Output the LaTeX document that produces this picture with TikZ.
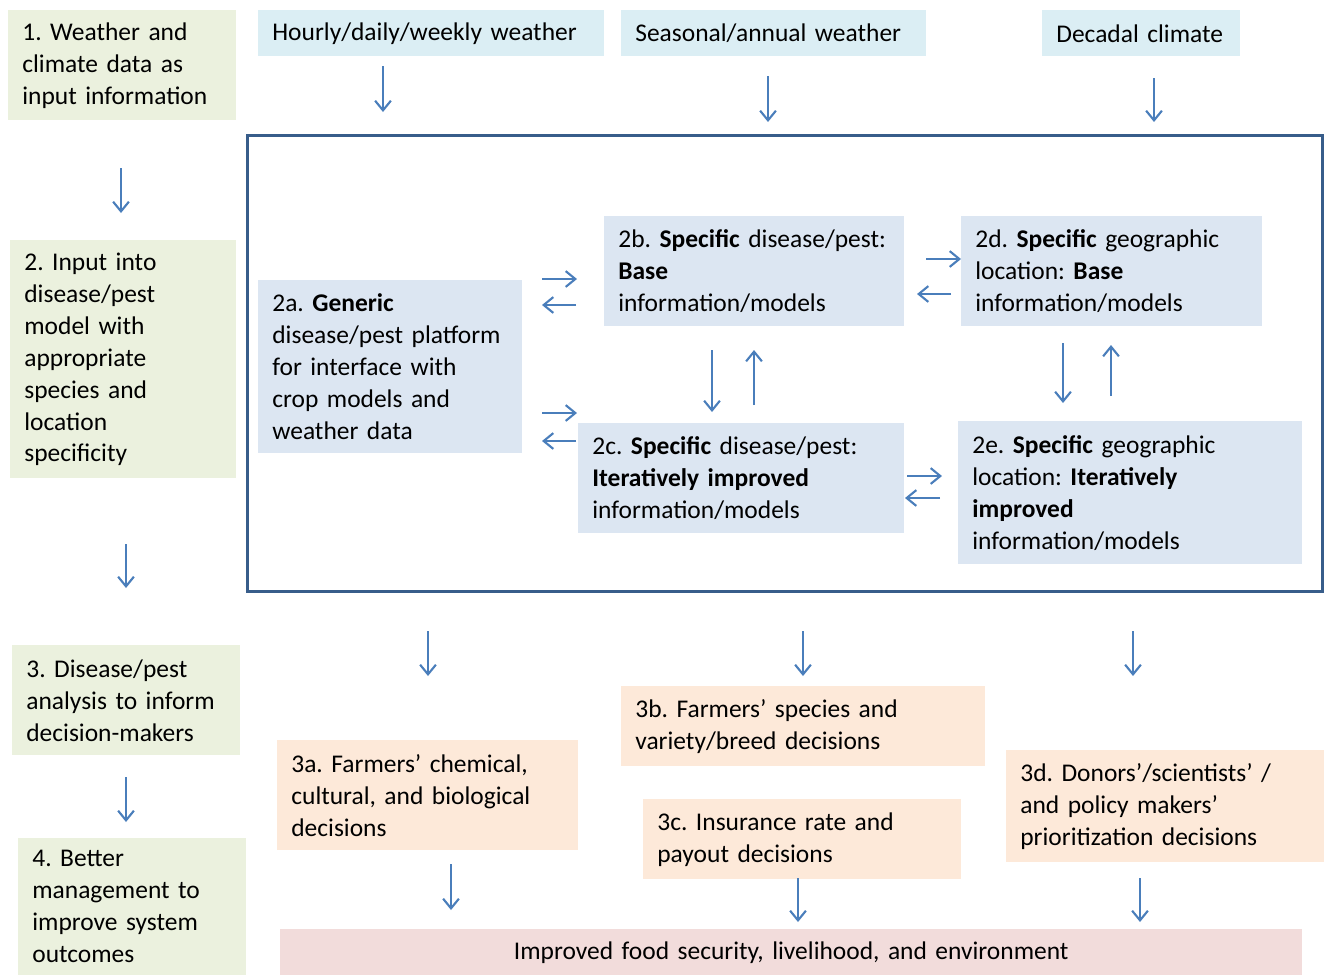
\documentclass[tikz,border=0pt]{standalone}
\usepackage{fontspec}
\setmainfont{Carlito}
\usetikzlibrary{arrows.meta}
\definecolor{stepgreen}{HTML}{EBF1DE}
\definecolor{wxblue}{HTML}{DBEEF4}
\definecolor{modelblue}{HTML}{DCE6F2}
\definecolor{decorange}{HTML}{FDE9D9}
\definecolor{goalpink}{HTML}{F2DCDB}
\definecolor{framecol}{HTML}{385D8A}
\definecolor{arrowblue}{HTML}{4A7EBB}
\frenchspacing
\begin{document}
\begin{tikzpicture}[x=0.02cm,y=-0.02cm,
  bx/.style={fill=#1,anchor=north west,inner xsep=0.28cm,inner ysep=0pt,align=left,
    font=\fontsize{14.5pt}{18.2pt}\selectfont},
  arr/.style={draw=arrowblue,line width=1.2pt,-{Straight Barb[length=5.5pt,width=9pt]}}]
\useasboundingbox (0,0) rectangle (1324,975);
% left column
\node[bx=stepgreen,text width=4.0cm,minimum height=2.2cm] (s1) at (8,10) {1. Weather and\\climate data as\\input information};
\node[bx=stepgreen,text width=3.96cm,minimum height=4.76cm] (s2) at (10,240) {2. Input into\\disease/pest\\model with\\appropriate\\species and\\location\\specificity};
\node[bx=stepgreen,text width=4.0cm,minimum height=2.2cm] (s3) at (12,645) {3. Disease/pest\\analysis to inform\\decision-makers};
\node[bx=stepgreen,text width=4.0cm,minimum height=2.74cm] (s4) at (18,838) {4. Better\\management to\\improve system\\outcomes};
% weather inputs
\node[bx=wxblue,text width=6.36cm,minimum height=0.92cm] (hourly) at (258,10) {Hourly/daily/weekly weather};
\node[bx=wxblue,text width=5.54cm,minimum height=0.92cm] (seasonal) at (621,10) {Seasonal/annual weather};
\node[bx=wxblue,text width=3.40cm,minimum height=0.92cm] (decadal) at (1042,10) {Decadal climate};
% model frame
\node[draw=framecol,line width=1.7pt,anchor=north west,minimum width=21.5cm,minimum height=9.12cm] (frame) at (246,134) {};
\node[bx=modelblue,text width=4.72cm,minimum height=3.46cm] (m2a) at (258,280) {2a. \textbf{Generic}\\disease/pest platform\\for interface with\\crop models and\\weather data};
\node[bx=modelblue,text width=5.44cm,minimum height=2.2cm] (m2b) at (604,216) {2b. \textbf{Specific} disease/pest:\\\textbf{Base}\\information/models};
\node[bx=modelblue,text width=5.46cm,minimum height=2.2cm] (m2d) at (961,216) {2d. \textbf{Specific} geographic\\location: \textbf{Base}\\information/models};
\node[bx=modelblue,text width=5.96cm,minimum height=2.2cm] (m2c) at (578,423) {2c. \textbf{Specific} disease/pest:\\\textbf{Iteratively improved}\\information/models};
\node[bx=modelblue,text width=6.32cm,minimum height=2.86cm] (m2e) at (958,421) {2e. \textbf{Specific} geographic\\location: \textbf{Iteratively}\\\textbf{improved}\\information/models};
% decisions
\node[bx=decorange,text width=5.46cm,minimum height=2.2cm] (d3a) at (277,740) {3a. Farmers’ chemical,\\cultural, and biological\\decisions};
\node[bx=decorange,text width=6.72cm,minimum height=1.6cm] (d3b) at (621,686) {3b. Farmers’ species and\\variety/breed decisions};
\node[bx=decorange,text width=5.80cm,minimum height=1.6cm] (d3c) at (643,799) {3c. Insurance rate and\\payout decisions};
\node[bx=decorange,text width=5.80cm,minimum height=2.24cm] (d3d) at (1006,750) {3d. Donors’/scientists’ /\\and policy makers’\\prioritization decisions};
\node[bx=goalpink,text width=19.88cm,minimum height=0.92cm,align=center] (goal) at (280,929) {Improved food security, livelihood, and environment};
% arrow ends
\coordinate (h1) at (383,66);   \coordinate (h2) at (383,112);
\coordinate (a1) at (768,76);   \coordinate (a2) at (768,122);
\coordinate (c1) at (1154,78);  \coordinate (c2) at (1154,122);
\coordinate (l1) at (121,168);  \coordinate (l2) at (121,213);
\coordinate (l3) at (126,544);  \coordinate (l4) at (126,588);
\coordinate (l5) at (126,777);  \coordinate (l6) at (126,822);
\coordinate (ab1) at (542,279); \coordinate (ab2) at (577,279);
\coordinate (ba1) at (576,305); \coordinate (ba2) at (542,305);
\coordinate (ac1) at (542,413); \coordinate (ac2) at (577,413);
\coordinate (ca1) at (576,441); \coordinate (ca2) at (542,441);
\coordinate (bc1) at (712,350); \coordinate (bc2) at (712,412);
\coordinate (cb1) at (754,405); \coordinate (cb2) at (754,350);
\coordinate (bd1) at (926,259); \coordinate (bd2) at (961,259);
\coordinate (db1) at (951,294); \coordinate (db2) at (917,294);
\coordinate (de1) at (1063,343);\coordinate (de2) at (1063,403);
\coordinate (ed1) at (1111,396);\coordinate (ed2) at (1111,345);
\coordinate (ce1) at (907,476); \coordinate (ce2) at (942,476);
\coordinate (ec1) at (940,498); \coordinate (ec2) at (905,498);
\coordinate (o1) at (428,631);  \coordinate (o2) at (428,676);
\coordinate (o3) at (803,631);  \coordinate (o4) at (803,676);
\coordinate (o5) at (1133,631); \coordinate (o6) at (1133,676);
\coordinate (g1) at (451,864);  \coordinate (g2) at (451,910);
\coordinate (g3) at (798,878);  \coordinate (g4) at (798,922);
\coordinate (g5) at (1140,878); \coordinate (g6) at (1140,922);
% arrows
\draw[arr] (h1) -- (h2);
\draw[arr] (a1) -- (a2);
\draw[arr] (c1) -- (c2);
\draw[arr] (l1) -- (l2);
\draw[arr] (l3) -- (l4);
\draw[arr] (l5) -- (l6);
\draw[arr] (ab1) -- (ab2);
\draw[arr] (ba1) -- (ba2);
\draw[arr] (ac1) -- (ac2);
\draw[arr] (ca1) -- (ca2);
\draw[arr] (bc1) -- (bc2);
\draw[arr] (cb1) -- (cb2);
\draw[arr] (bd1) -- (bd2);
\draw[arr] (db1) -- (db2);
\draw[arr] (de1) -- (de2);
\draw[arr] (ed1) -- (ed2);
\draw[arr] (ce1) -- (ce2);
\draw[arr] (ec1) -- (ec2);
\draw[arr] (o1) -- (o2);
\draw[arr] (o3) -- (o4);
\draw[arr] (o5) -- (o6);
\draw[arr] (g1) -- (g2);
\draw[arr] (g3) -- (g4);
\draw[arr] (g5) -- (g6);
\end{tikzpicture}
\end{document}
